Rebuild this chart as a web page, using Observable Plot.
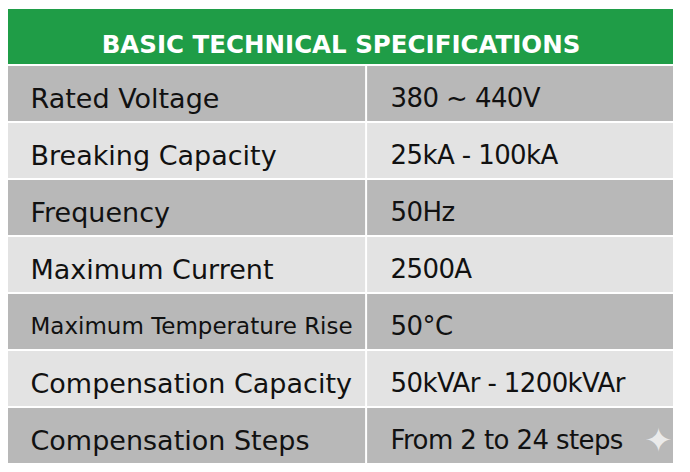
<!DOCTYPE html>
<html>
<head>
<meta charset="utf-8">
<script src="https://cdn.jsdelivr.net/npm/d3@7"></script>
<script src="https://cdn.jsdelivr.net/npm/@observablehq/plot@0.6"></script>
<style>
  html, body { margin: 0; padding: 0; background: #ffffff; }
  #chart svg { display: block; }
</style>
</head>
<body>
<div id="chart"></div>
<script>
const title = "BASIC TECHNICAL SPECIFICATIONS";
const parameters = [
  "Rated Voltage",
  "Breaking Capacity",
  "Frequency",
  "Maximum Current",
  "Maximum Temperature Rise",
  "Compensation Capacity",
  "Compensation Steps"
];
const specValues = [
  "380 ~ 440V",
  "25kA - 100kA",
  "50Hz",
  "2500A",
  "50°C",
  "50kVAr - 1200kVAr",
  "From 2 to 24 steps"
];
// column boundaries as fractions of the table width: parameter | value
const columnNames = ["parameter", "value"];
const columnStarts = [0, 0.5385];
const columnEnds = [0.5385, 1];

const rowKeys = ["__header__", ...parameters];
const paramCells = parameters.map((p, i) => ({
  row: p, x1: columnStarts[0], x2: columnEnds[0], text: p, shade: i % 2 === 0 ? "dark" : "light"
}));
const valueCells = parameters.map((p, i) => ({
  row: p, x1: columnStarts[1], x2: columnEnds[1], text: specValues[i], shade: i % 2 === 0 ? "dark" : "light"
}));
const header = [{row: "__header__", x1: 0, x2: 1, text: title}];
const lastRow = parameters[parameters.length - 1];

const FONT = "DejaVu Sans, sans-serif";

const chart = Plot.plot({
  width: 690,
  height: 472,
  marginTop: 9,
  marginBottom: 9,
  marginLeft: 8,
  marginRight: 17,
  style: {fontFamily: FONT, background: "#ffffff"},
  x: {domain: [0, 1], axis: null},
  y: {domain: rowKeys, axis: null, paddingInner: 0.036, paddingOuter: 0, align: 0},
  color: {domain: ["dark", "light"], range: ["#b8b8b8", "#e3e3e3"]},
  marks: [
    Plot.barX(header, {x1: "x1", x2: "x2", y: "row", fill: "#1f9d47"}),
    Plot.barX(paramCells, {x1: "x1", x2: "x2", y: "row", fill: "shade", insetRight: 1}),
    Plot.barX(valueCells, {x1: "x1", x2: "x2", y: "row", fill: "shade", insetLeft: 1}),
    Plot.text(header, {
      x: 0.5, y: "row", text: "text", fill: "#ffffff",
      fontSize: 24.5, fontWeight: "bold", textAnchor: "middle", dy: 8.5
    }),
    Plot.text(paramCells, {
      x: "x1", y: "row", text: "text", fill: "#111111",
      fontSize: 27, textAnchor: "start", dx: 22, dy: 5,
      className: "paramtext"
    }),
    Plot.text(valueCells, {
      x: "x1", y: "row", text: "text", fill: "#111111",
      fontSize: 26, textAnchor: "start", dx: 24, dy: 5,
      className: "valuetext"
    }),
    Plot.text([lastRow], {
      x: 1, y: d => d, text: () => "✦", fill: "#f2f2f2", fillOpacity: 0.9,
      fontSize: 34, textAnchor: "middle", dx: -15, dy: 5
    })
  ]
});

document.getElementById("chart").appendChild(chart);

d3.select(chart).selectAll("g.valuetext text").attr("letter-spacing", "-0.6px");

// shrink parameter text that would overflow its column
const xs = chart.scale("x");
d3.select(chart).selectAll("g.paramtext text").each(function(d) {
  const datum = paramCells[d];
  if (!datum) return;
  const avail = xs.apply(datum.x2) - xs.apply(datum.x1) - 33;
  let fs = 27;
  while (this.getComputedTextLength() > avail && fs > 12) {
    fs -= 0.25;
    this.setAttribute("font-size", fs);
  }
});
</script>
</body>
</html>
